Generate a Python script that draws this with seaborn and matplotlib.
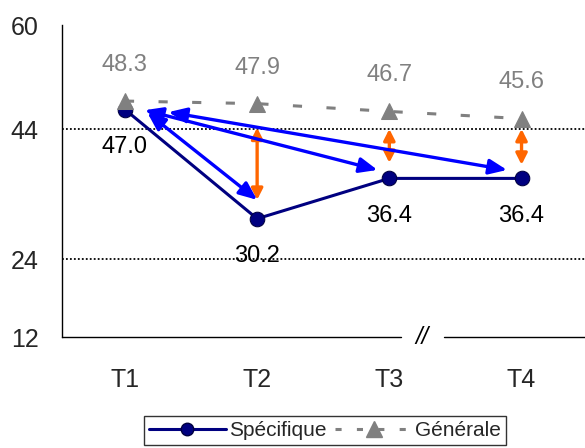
# %%
# ===== Libraries =====
import pandas as pd
import matplotlib
matplotlib.use('Agg')
import matplotlib.pyplot as plt
from matplotlib.lines import Line2D
import seaborn as sns

sns.set_theme(style='white')
plt.rcParams['font.family'] = ['Liberation Sans', 'DejaVu Sans']

# %%
# ===== Data =====
temps = ['T1', 'T2', 'T3', 'T4']
specifique = [47.0, 30.2, 36.4, 36.4]
generale = [48.3, 47.9, 46.7, 45.6]
y_ticks = [12, 24, 44, 60]
ref_lines = [44, 24]

# orange double arrows (gap between the two groups) at T2, T3, T4
orange_idx = [1, 2, 3]
orange_top = [44.2, 44.0, 44.0]
orange_bottom = [33.1, 38.8, 38.5]

# blue double arrows from T1 towards T2, T3, T4
blue_start = [(0.17, 46.5), (0.15, 46.9), (0.33, 46.6)]
blue_end = [(1.0, 33.1), (1.91, 37.7), (2.89, 37.7)]

navy = '#000080'
grey = '#808080'

df = pd.DataFrame({
    'temps': temps * 2,
    'score': specifique + generale,
    'groupe': ['Spécifique'] * 4 + ['Générale'] * 4,
})

# %%
# ===== Plot =====
fig = plt.figure(figsize=(5.85, 4.48), dpi=100)
ax = fig.add_axes([62 / 585, 1 - 337 / 448, 1 - 62 / 585, (337 - 25) / 448])

for y in ref_lines:
    ax.axhline(y, color='black', linestyle=(0, (1, 1.2)), linewidth=1.3, zorder=1)

sns.lineplot(data=df[df.groupe == 'Spécifique'], x='temps', y='score',
             color=navy, linewidth=2.2, marker='o', markersize=10.5,
             markeredgecolor='#000040', ax=ax, zorder=3)
sns.lineplot(data=df[df.groupe == 'Générale'], x='temps', y='score',
             color=grey, linewidth=2.2, marker='^', markersize=12,
             markeredgecolor=grey, dashes=False, ax=ax, zorder=4)
ax.lines[-1].set_dashes((3, 8))

for i, (s, g) in enumerate(zip(specifique, generale)):
    ax.annotate(f'{g:.1f}', (i, g), xytext=(0, 26), textcoords='offset points',
                ha='center', va='center', fontsize=17, color=grey)
    ax.annotate(f'{s:.1f}', (i, s), xytext=(0, -27), textcoords='offset points',
                ha='center', va='center', fontsize=17, color='black')

for i, top, bot in zip(orange_idx, orange_top, orange_bottom):
    ax.annotate('', xy=(i, bot), xytext=(i, top),
                arrowprops=dict(arrowstyle='<|-|>,head_length=0.55,head_width=0.28',
                                color='#FF6600', lw=2.4, shrinkA=0, shrinkB=0),
                zorder=5)

for st, en in zip(blue_start, blue_end):
    ax.annotate('', xy=en, xytext=st,
                arrowprops=dict(arrowstyle='<|-|>,head_length=0.9,head_width=0.38',
                                color='#0000FF', lw=2.4, shrinkA=0, shrinkB=0),
                zorder=6)

ax.set_xlim(-0.476, 3.48)
ax.set_ylim(12, 60)
ax.set_yticks(y_ticks)
ax.set_xlabel('')
ax.set_ylabel('')
ax.tick_params(axis='y', length=0, pad=17, labelsize=18)
ax.tick_params(axis='x', length=0, pad=22, labelsize=18)

for side in ['top', 'right', 'bottom']:
    ax.spines[side].set_visible(False)
ax.spines['left'].set_color('black')
ax.spines['left'].set_linewidth(1)

# broken x axis with "//" between T3 and T4
brk_lo, brk_hi = 2.09, 2.41
ax.plot([-0.476, brk_lo], [12, 12], color='black', lw=1, clip_on=False)
ax.plot([brk_hi, 3.48], [12, 12], color='black', lw=1, clip_on=False)
ax.text((brk_lo + brk_hi) / 2, 12, '//', ha='center', va='center',
        fontsize=17, style='italic', color='black')

# %%
# ===== Legend =====
handles = [
    Line2D([], [], color=navy, lw=2.2, marker='o', markersize=9,
           markeredgecolor='#000040'),
    Line2D([], [], color=grey, lw=2.2, marker='^', markersize=11,
           dashes=(2, 5)),
]
leg = fig.legend(handles, ['Spécifique', 'Générale'], loc='upper center',
                 bbox_to_anchor=(325 / 585, 1 - 416 / 448), ncol=2,
                 fontsize=15, handlelength=3.7, handletextpad=0.15,
                 columnspacing=0.4, frameon=True, fancybox=False,
                 borderpad=0.25, borderaxespad=0)
leg.get_frame().set_edgecolor('black')
leg.get_frame().set_linewidth(1)

fig.savefig('out.png', dpi=100)
